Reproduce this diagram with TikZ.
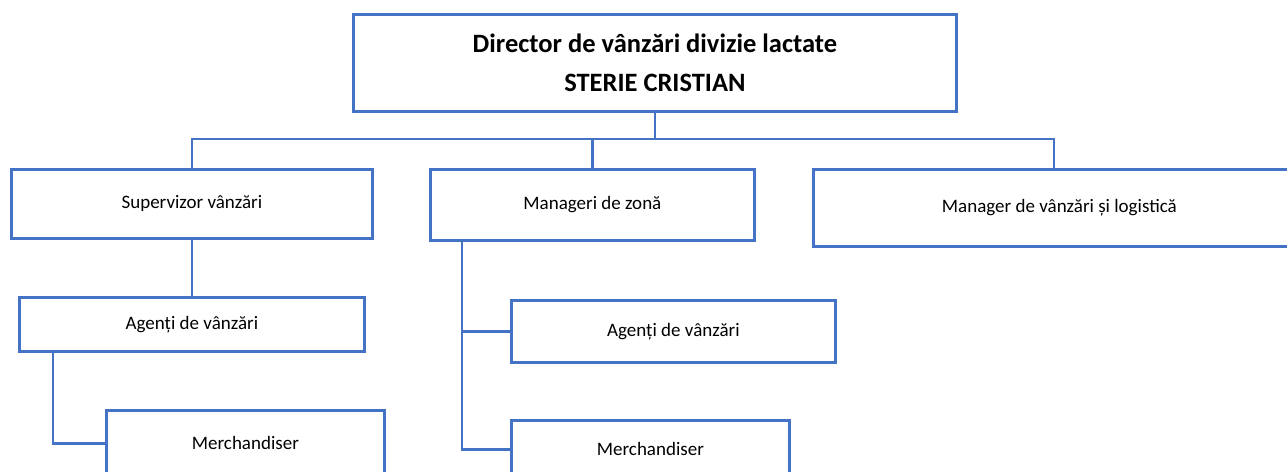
\documentclass[tikz,border=0pt]{standalone}
\usepackage{fontspec}
\setmainfont{Carlito}
\definecolor{lineblue}{RGB}{68,114,196}
\tikzset{
  box/.style={draw=lineblue, line width=2.8pt, fill=white, inner sep=0pt, anchor=north west, align=center, font=\fontsize{19}{23}\selectfont},
  conn/.style={draw=lineblue, line width=2.8pt},
}
\begin{document}
\begin{tikzpicture}[x=1pt,y=1pt]
\clip (0,0) rectangle (1287,-471);
\useasboundingbox (0,0) rectangle (1287,-471);
\fill[white] (0,0) rectangle (1287,-471);
\coordinate (bar) at (0,-139);
\node[box, minimum width=603pt, minimum height=97pt, font=\fontsize{26.5}{39}\selectfont\bfseries] (dir) at (352,-13) {Director de vânzări divizie lactate\\STERIE CRISTIAN};
\node[box, minimum width=361pt, minimum height=69pt] (sup) at (10,-168) {Supervizor vânzări};
\node[box, minimum width=324pt, minimum height=71pt] (mgr) at (429,-168) {Manageri de zonă};
\node[box, minimum width=492pt, minimum height=77pt] (mlog) at (812,-168) {Manager de vânzări și logistică};
\node[box, minimum width=345pt, minimum height=54pt] (ag1) at (18,-296) {Agenți de vânzări};
\node[box, minimum width=324pt, minimum height=62pt] (ag2) at (510,-299) {Agenți de vânzări};
\node[box, minimum width=278pt, minimum height=66pt] (m1) at (105,-409) {Merchandiser};
\node[box, minimum width=278pt, minimum height=58pt] (m2) at (510,-419) {Merchandiser};
\coordinate (drop3) at (1054,-168);
\coordinate (a1) at (53,-350);
\coordinate (z) at (462,-239);
\draw[conn] (dir.south) -- (dir.south |- bar);
\draw[conn] (sup.north) -- (sup.north |- bar) -- (drop3 |- bar) -- (drop3);
\draw[conn] (mgr.north) -- (mgr.north |- bar);
\draw[conn] (sup.south) -- (ag1.north);
\draw[conn] (a1) |- (m1.west);
\draw[conn] (z) |- (ag2.west);
\draw[conn] (z) |- (m2.west);
\end{tikzpicture}
\end{document}
